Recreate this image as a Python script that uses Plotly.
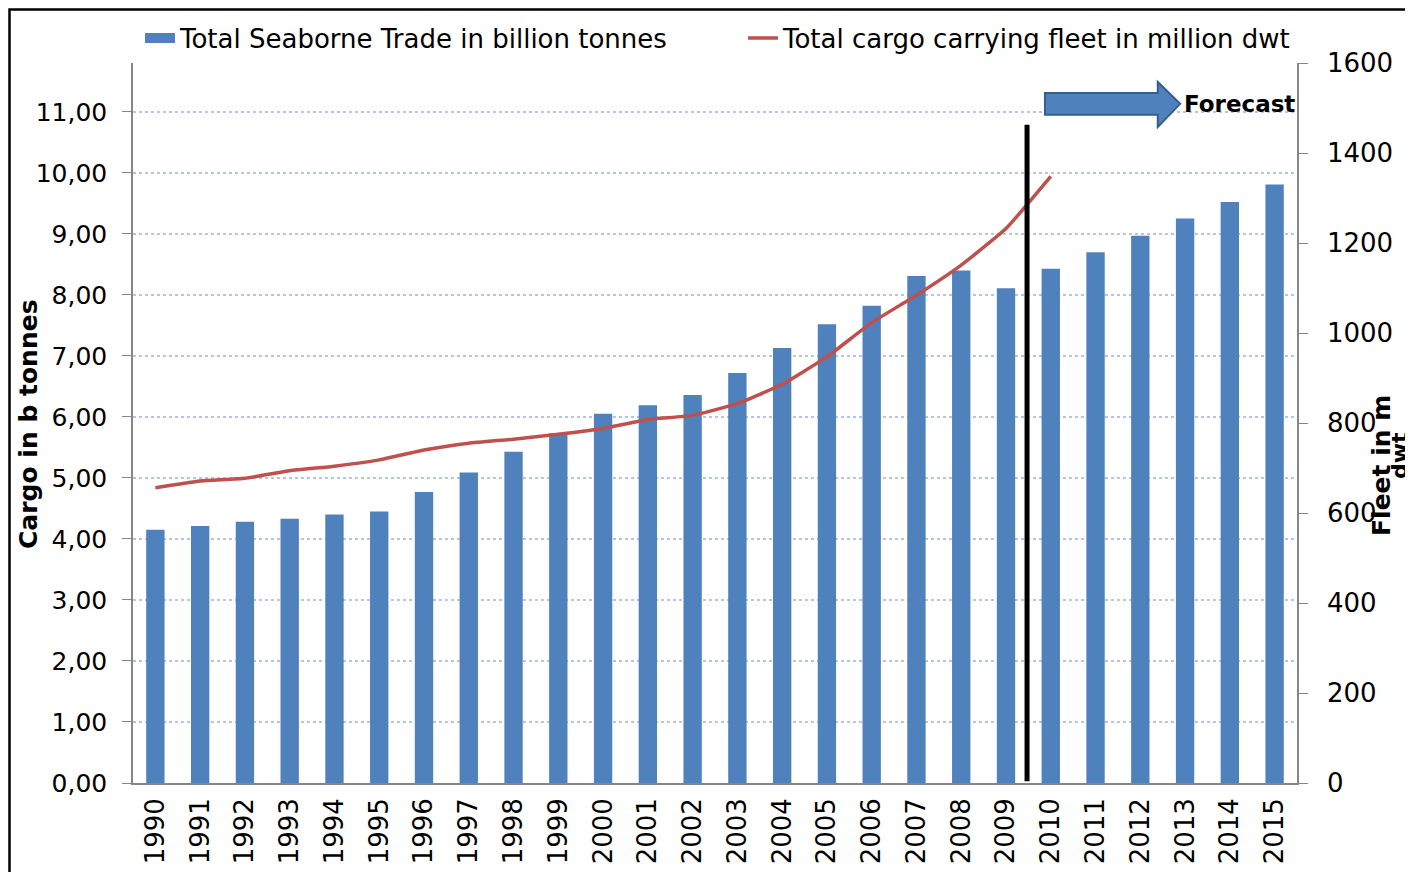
import plotly.graph_objects as go

years = list(range(1990, 2016))
trade = [4.15, 4.21, 4.28, 4.33, 4.40, 4.45, 4.77, 5.09, 5.43, 5.73,
         6.05, 6.19, 6.36, 6.72, 7.13, 7.52, 7.82, 8.31, 8.40, 8.11,
         8.43, 8.70, 8.97, 9.25, 9.52, 9.81]
fleet_years = list(range(1990, 2011))
fleet = [656, 671, 677, 694, 704, 718, 740, 755, 764, 775,
         788, 808, 817, 843, 886, 947, 1023, 1084, 1151, 1232, 1348]

left_ticks = [i for i in range(0, 12)]
right_ticks = [i * 200 for i in range(0, 9)]

FONT = "DejaVu Sans"
BLUE = "#4f81bd"
RED = "#c0504d"
AX = "#868686"

# page offset (browser body margin) is 8px; plot area in page pixels: x 133..1297, y 63..783
OFF = 8
PL, PR, PT, PB = 133, 1297, 63, 783
PW, PH = PR - PL, PB - PT


def px(xp):
    return (xp - PL) / PW


def py(yp):
    return (PB - yp) / PH


fig = go.Figure()
fig.add_trace(go.Bar(
    x=years, y=trade, name="Total Seaborne Trade in billion tonnes",
    marker=dict(color=BLUE, line=dict(width=0)), width=0.41, showlegend=False,
))
# legend entry for the bars (wide rectangle symbol like the original)
fig.add_trace(go.Scatter(
    x=[None], y=[None], name="Total Seaborne Trade in billion tonnes",
    mode="lines", line=dict(color=BLUE, width=12), legend="legend",
))
fig.add_trace(go.Scatter(
    x=fleet_years, y=fleet, name="Total cargo carrying fleet in million dwt",
    mode="lines", line=dict(color=RED, width=3.5, shape="spline", smoothing=0.4),
    yaxis="y2", legend="legend2",
))

# forecast divider
fig.add_shape(type="line", xref="x", yref="y", x0=2009.47, x1=2009.47, y0=0.03, y1=10.79,
              line=dict(color="black", width=5))
# forecast arrow
fig.add_shape(type="path", xref="x", yref="y",
              path="M 2009.87,11.31 L 2012.39,11.31 L 2012.39,11.49 L 2012.89,11.13 "
                   "L 2012.39,10.75 L 2012.39,10.95 L 2009.87,10.95 Z",
              fillcolor=BLUE, line=dict(color="#385d8a", width=2))
fig.add_annotation(x=2012.93, y=11.13, xref="x", yref="y", text="<b>Forecast</b>",
                   showarrow=False, xanchor="left", yanchor="middle",
                   font=dict(family=FONT, size=23, color="black"))
# outer frame
fig.add_shape(type="rect", xref="paper", yref="paper",
              x0=px(9.5), x1=1.3, y0=-0.3, y1=py(9.5),
              line=dict(color="black", width=2.5), fillcolor="rgba(0,0,0,0)", layer="above")
# axis titles
fig.add_annotation(x=px(28), y=py(424), xref="paper", yref="paper",
                   text="<b>Cargo in b tonnes</b>", textangle=-90, showarrow=False,
                   xanchor="center", yanchor="middle",
                   font=dict(family=FONT, size=25, color="black"))
fig.add_annotation(x=px(1381), y=py(466), xref="paper", yref="paper",
                   text="<b>Fleet in m</b>", textangle=-90, showarrow=False,
                   xanchor="center", yanchor="middle",
                   font=dict(family=FONT, size=25, color="black"))
fig.add_annotation(x=px(1399), y=py(456), xref="paper", yref="paper",
                   text="<b>dwt</b>", textangle=-90, showarrow=False,
                   xanchor="center", yanchor="middle",
                   font=dict(family=FONT, size=22, color="black"))

fig.update_layout(
    width=1413 - OFF, height=872 - OFF,
    margin=dict(l=PL - OFF, r=1413 - PR, t=PT - OFF, b=872 - PB, autoexpand=False),
    paper_bgcolor="white", plot_bgcolor="white",
    separators=",.",
    font=dict(family=FONT, size=25, color="black"),
    bargap=0.59,
    showlegend=True,
    legend=dict(orientation="h", x=px(140), xanchor="left",
                y=py(38), yanchor="middle",
                font=dict(family=FONT, size=26, color="black"),
                bgcolor="rgba(0,0,0,0)", borderwidth=0),
    legend2=dict(orientation="h", x=px(743), xanchor="left",
                 y=py(38), yanchor="middle",
                 font=dict(family=FONT, size=26, color="black"),
                 bgcolor="rgba(0,0,0,0)", borderwidth=0),
    xaxis=dict(
        range=[1989.5, 2015.5], tickmode="array", tickvals=years,
        ticktext=[str(y) for y in years], tickangle=-90, automargin=False,
        showgrid=False, zeroline=False, showline=True, linecolor=AX, linewidth=1.5,
        ticks="", ticklabelstandoff=3,
        tickfont=dict(family=FONT, size=26, color="black"),
    ),
    yaxis=dict(
        range=[0, 11.8], tickmode="array", tickvals=left_ticks, tickformat=".2f",
        automargin=False,
        showgrid=True, gridcolor="#b4c6e7", griddash="dot", gridwidth=1.5,
        zeroline=False, showline=True, linecolor=AX, linewidth=1.5,
        ticks="outside", ticklen=9, tickcolor=AX, ticklabelstandoff=10,
        tickfont=dict(family=FONT, size=25, color="black"),
    ),
    yaxis2=dict(
        range=[0, 1600], tickmode="array", tickvals=right_ticks, automargin=False,
        overlaying="y", side="right", showgrid=False, zeroline=False,
        showline=True, linecolor=AX, linewidth=1.5,
        ticks="outside", ticklen=9, tickcolor=AX, ticklabelstandoff=14,
        tickfont=dict(family=FONT, size=26, color="black"),
    ),
)

fig.write_html("out.html")
